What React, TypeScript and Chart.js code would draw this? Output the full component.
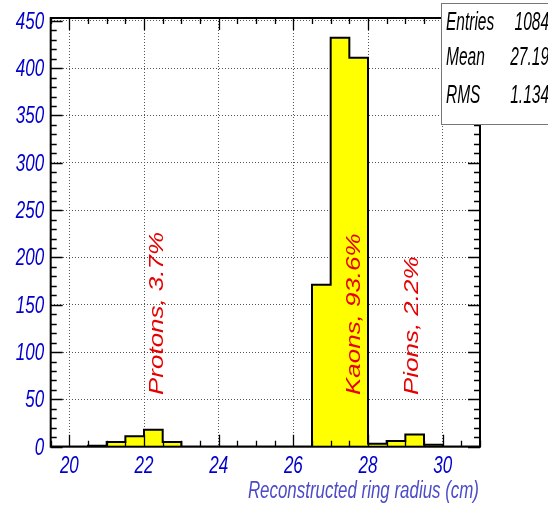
import React, { useEffect, useRef } from 'react';
import { Chart, registerables } from 'chart.js';

Chart.register(...registerables);

// Histogram bin edges (cm) and entries per bin
const binEdges = [
  19.5, 20, 20.5, 21, 21.5, 22, 22.5, 23, 23.5, 24, 24.5, 25,
  25.5, 26, 26.5, 27, 27.5, 28, 28.5, 29, 29.5, 30, 30.5, 31,
];
const counts = [
  0, 0, 1, 5, 11, 18, 5, 0, 0, 0, 0, 0,
  0, 0, 171, 432, 411, 3, 6, 13, 2, 0, 0,
];
const xTickValues = [20, 22, 24, 26, 28, 30];
const yTickValues = [0, 50, 100, 150, 200, 250, 300, 350, 400, 450];
const xMin = 19.5;
const xMax = 31;
const yMax = 453;
const xTitle = 'Reconstructed ring radius (cm)';
const statsNames = ['Entries', 'Mean', 'RMS'];
const statsValues = ['1084', '27.19', '1.134'];
const particleLabels = ['Protons, 3.7%', 'Kaons, 93.6%', 'Pions, 2.2%'];

const SANS = "'Liberation Sans', Arial, sans-serif";

function drawScaledText(
  ctx: CanvasRenderingContext2D,
  text: string,
  x: number,
  y: number,
  sx: number,
  align: CanvasTextAlign,
  baseline: CanvasTextBaseline,
) {
  ctx.save();
  ctx.translate(x, y);
  ctx.scale(sx, 1);
  ctx.textAlign = align;
  ctx.textBaseline = baseline;
  ctx.fillText(text, 0, 0);
  ctx.restore();
}

const framePlugin = {
  id: 'rootFrame',
  afterDatasetsDraw(chart: any) {
    const { ctx, chartArea: a, scales } = chart;
    const xs = scales.x;
    const ys = scales.y;
    ctx.save();
    // particle annotations (rotated text)
    const labelX = [22.52, 27.79, 29.34];
    const labelY = 54.7;
    ctx.fillStyle = '#e60000';
    ctx.font = `italic 19.5px ${SANS}`;
    ctx.textAlign = 'left';
    ctx.textBaseline = 'alphabetic';
    particleLabels.forEach((t, i) => {
      const px = xs.getPixelForValue(labelX[i]);
      const py = ys.getPixelForValue(labelY);
      ctx.save();
      ctx.translate(px, py);
      ctx.rotate(-Math.PI / 2);
      ctx.scale(1.33, 1);
      ctx.fillText(t, 0, 0);
      ctx.restore();
    });

    // tick marks (inside the frame)
    ctx.strokeStyle = '#000';
    ctx.lineWidth = 1.3;
    ctx.beginPath();
    for (let k = 0; xMin + k * 0.5 <= xMax + 1e-9; k++) {
      const v = xMin + k * 0.5;
      const px = Math.round(xs.getPixelForValue(v)) + 0.5;
      const len = xTickValues.includes(v) ? 12 : 6;
      ctx.moveTo(px, a.bottom);
      ctx.lineTo(px, a.bottom - len);
      ctx.moveTo(px, a.top);
      ctx.lineTo(px, a.top + len);
    }
    for (let v = 0; v <= yMax; v += 10) {
      const py = Math.round(ys.getPixelForValue(v)) + 0.5;
      const len = v % 50 === 0 ? 12 : 6;
      ctx.moveTo(a.left, py);
      ctx.lineTo(a.left + len, py);
      ctx.moveTo(a.right, py);
      ctx.lineTo(a.right - len, py);
    }
    ctx.stroke();

    // frame
    ctx.lineWidth = 2;
    ctx.strokeRect(a.left, a.top, a.right - a.left, a.bottom - a.top);

    // axis tick labels (condensed italic, as in ROOT)
    ctx.fillStyle = '#0000cc';
    ctx.font = `italic 23px ${SANS}`;
    yTickValues.forEach((v) => {
      drawScaledText(ctx, String(v), a.left - 6.5, ys.getPixelForValue(v) + 1.5, 0.74, 'right', 'middle');
    });
    xTickValues.forEach((v) => {
      drawScaledText(ctx, String(v), xs.getPixelForValue(v), a.bottom + 20, 0.74, 'center', 'middle');
    });
    // axis title
    ctx.fillStyle = '#4b4bc8';
    ctx.font = `italic 23px ${SANS}`;
    drawScaledText(ctx, xTitle, a.right - 1, 498, 0.735, 'right', 'alphabetic');
    ctx.restore();
  },
  afterDraw(chart: any) {
    const { ctx } = chart;
    ctx.save();
    // stats box
    ctx.fillStyle = '#ffffff';
    ctx.fillRect(441, 3, 120, 122);
    ctx.strokeStyle = '#777';
    ctx.lineWidth = 1;
    ctx.strokeRect(441.5, 3.5, 120, 121);
    ctx.fillStyle = '#000';
    ctx.font = `italic 25px ${SANS}`;
    const rowY = [23, 58, 96];
    statsNames.forEach((n, i) => {
      drawScaledText(ctx, n, 446, rowY[i], 0.62, 'left', 'middle');
      drawScaledText(ctx, statsValues[i], 549, rowY[i], 0.62, 'right', 'middle');
    });
    ctx.restore();
  },
};

export default function App() {
  const ref = useRef<HTMLCanvasElement | null>(null);
  useEffect(() => {
    document.body.style.margin = '0';
    const canvas = ref.current;
    if (!canvas) return;
    const points = binEdges.map((x, i) => ({
      x,
      y: i < counts.length ? counts[i] : counts[counts.length - 1],
    }));
    const chart = new Chart(canvas, {
      type: 'line',
      data: {
        datasets: [
          {
            data: points,
            stepped: 'before',
            fill: 'origin',
            backgroundColor: '#ffff00',
            borderColor: '#000000',
            borderWidth: 2,
            pointRadius: 0,
            tension: 0,
          },
        ],
      },
      options: {
        animation: false,
        responsive: false,
        maintainAspectRatio: false,
        layout: { padding: { top: 18, right: 68, left: 0, bottom: 0 } },
        plugins: {
          legend: { display: false },
          tooltip: { enabled: false },
        },
        scales: {
          x: {
            type: 'linear',
            min: xMin,
            max: xMax,
            afterBuildTicks: (s: any) => {
              s.ticks = xTickValues.map((v) => ({ value: v }));
            },
            afterFit: (s: any) => {
              s.height = 59.3;
              s.paddingLeft = 0;
              s.paddingRight = 0;
            },
            grid: { color: '#555', lineWidth: 1, drawTicks: false },
            border: { display: false, dash: [1, 2] },
            ticks: { display: false },
          },
          y: {
            type: 'linear',
            min: 0,
            max: yMax,
            afterBuildTicks: (s: any) => {
              s.ticks = yTickValues.map((v) => ({ value: v }));
            },
            afterFit: (s: any) => {
              s.width = 50.7;
              s.paddingTop = 0;
              s.paddingBottom = 0;
            },
            grid: { color: '#555', lineWidth: 1, drawTicks: false },
            border: { display: false, dash: [1, 2] },
            ticks: { display: false },
          },
        },
      },
      plugins: [framePlugin],
    });
    return () => chart.destroy();
  }, []);
  return (
    <div style={{ position: 'fixed', left: 0, top: 0, width: 548, height: 506, background: '#fff' }}>
      <canvas ref={ref} width={548} height={506} style={{ width: 548, height: 506, display: 'block' }} />
    </div>
  );
}
